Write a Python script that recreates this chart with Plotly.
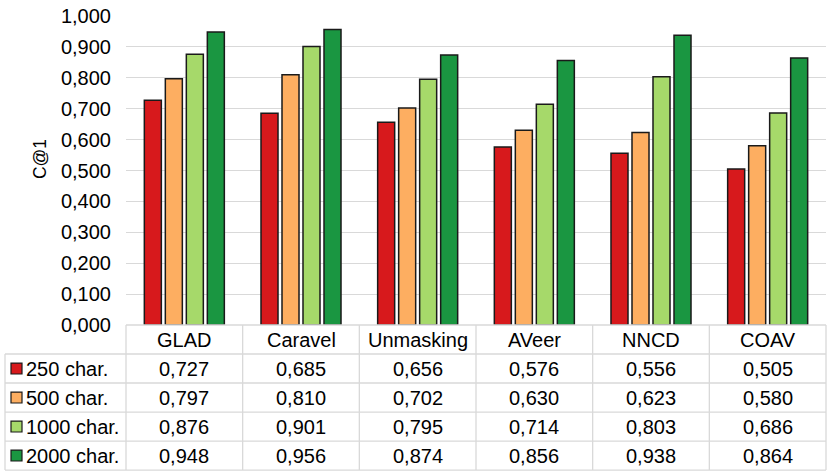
import plotly.graph_objects as go

categories = ["GLAD", "Caravel", "Unmasking", "AVeer", "NNCD", "COAV"]
series_names = ["250 char.", "500 char.", "1000 char.", "2000 char."]
v250 = [0.727, 0.685, 0.656, 0.576, 0.556, 0.505]
v500 = [0.797, 0.810, 0.702, 0.630, 0.623, 0.580]
v1000 = [0.876, 0.901, 0.795, 0.714, 0.803, 0.686]
v2000 = [0.948, 0.956, 0.874, 0.856, 0.938, 0.864]
series_values = [v250, v500, v1000, v2000]
colors = ["#D7191C", "#FDAE61", "#A6D96A", "#1A9641"]
yticks = [i / 10 for i in range(11)]
ytick_labels = ["{:.3f}".format(t).replace(".", ",") for t in yticks]

W, H = 831, 474
L, R, T, B = 126, 826, 14, 325
FONT = "Liberation Sans, Arial, sans-serif"
FS = 20


def px2x(px):
    return (px - L) / (R - L)


def py2y(py):
    return (B - py) / (B - T)


fig = go.Figure()
for name, vals, col in zip(series_names, series_values, colors):
    fig.add_trace(go.Bar(
        x=categories, y=vals, name=name,
        marker=dict(color=col, line=dict(color="#1a1a1a", width=1.5)),
    ))

row_h = 29.2
shapes = []
annos = []
grid_col = "#D9D9D9"
ncat = len(categories)
colw = (R - L) / ncat

# horizontal lines
shapes.append(dict(type="line", xref="paper", yref="paper", x0=0, x1=1,
                   y0=py2y(B), y1=py2y(B), line=dict(color=grid_col, width=1.3)))
for i in range(5):
    yy = B + row_h * (i + 1)
    shapes.append(dict(type="line", xref="paper", yref="paper", x0=px2x(5), x1=1,
                       y0=py2y(yy), y1=py2y(yy), line=dict(color=grid_col, width=1.3)))
# vertical lines
bottom = B + row_h * 5
for j in range(ncat + 1):
    xx = L + colw * j
    shapes.append(dict(type="line", xref="paper", yref="paper", x0=px2x(xx), x1=px2x(xx),
                       y0=py2y(B), y1=py2y(bottom), line=dict(color=grid_col, width=1.3)))
shapes.append(dict(type="line", xref="paper", yref="paper", x0=px2x(5), x1=px2x(5),
                   y0=py2y(B + row_h), y1=py2y(bottom), line=dict(color=grid_col, width=1.3)))

# header
for j, c in enumerate(categories):
    annos.append(dict(text=c, xref="paper", yref="paper", x=px2x(L + colw * (j + 0.5)),
                      y=py2y(B + row_h / 2), showarrow=False, xanchor="center", yanchor="middle",
                      font=dict(family=FONT, size=FS, color="#000")))
# rows
for i, (name, vals, col) in enumerate(zip(series_names, series_values, colors)):
    cy = B + row_h * (i + 1.5)
    shapes.append(dict(type="rect", xref="paper", yref="paper", x0=px2x(11), x1=px2x(22),
                       y0=py2y(cy - 5.5), y1=py2y(cy + 5.5), fillcolor=col,
                       line=dict(color="#1a1a1a", width=1.2)))
    annos.append(dict(text=name, xref="paper", yref="paper", x=px2x(24), y=py2y(cy),
                      showarrow=False, xanchor="left", yanchor="middle",
                      font=dict(family=FONT, size=FS, color="#000")))
    for j, v in enumerate(vals):
        annos.append(dict(text="{:.3f}".format(v).replace(".", ","), xref="paper", yref="paper",
                          x=px2x(L + colw * (j + 0.5)), y=py2y(cy), showarrow=False,
                          xanchor="center", yanchor="middle",
                          font=dict(family=FONT, size=FS, color="#000")))

annos.append(dict(text="C@1", xref="paper", yref="paper", x=px2x(40), y=py2y(158),
                  showarrow=False, textangle=-90, xanchor="center", yanchor="middle",
                  font=dict(family=FONT, size=17.5, color="#000")))

fig.update_layout(
    width=W, height=H,
    margin=dict(l=L, r=W - R, t=T, b=H - B, pad=0),
    paper_bgcolor="white", plot_bgcolor="white",
    barmode="group", bargap=0.28, bargroupgap=0.19,
    showlegend=False,
    shapes=shapes, annotations=annos,
    font=dict(family=FONT, size=FS, color="#000"),
    xaxis=dict(showticklabels=False, showgrid=False, zeroline=False, showline=False,
               ticks=""),
    yaxis=dict(range=[0, 1.0], tickvals=yticks, ticktext=ytick_labels,
               showgrid=True, gridcolor=grid_col, gridwidth=1.3, zeroline=False,
               showline=False, ticks="", ticklabelstandoff=14,
               tickfont=dict(family=FONT, size=FS, color="#000")),
)

fig.write_html("out.html", config={"displayModeBar": False},
               post_script="document.body.style.margin='0px';")
